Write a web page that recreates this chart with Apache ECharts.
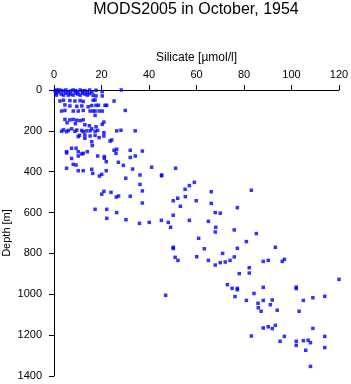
<!DOCTYPE html>
<html lang="en">
<head>
    <meta charset="UTF-8">
    <title>MODS2005 in October, 1954</title>
    <script src="https://cdn.jsdelivr.net/npm/echarts@6/dist/echarts.min.js"></script>
    <style>
        html, body { margin: 0; padding: 0; background: #fff; }
    </style>
</head>
<body>
<div id="main" style="width: 351px;height: 384px"></div>
<script>
    // silicate [umol/l] and depth [m], band by band
    var silicate = [
        1, 2, 3, 4, 5, 6, 7, 8, 9, 10, 11, 12, 13, 14, 15, 2, 3, 5, 7, 8, 10, 12, 4, 6, 1, 1, 11, 14, 0.5, 9, 13, 16, 16.5, 17.7, 20.3, 28.3, 17.7, 20.3, 15,
        4, 6.7, 8.8, 11, 12.3, 16.5, 17.3, 25.3, 2.5,
        6.7, 9.6, 11.7, 14.4, 15.9, 17.7, 18.7, 21.5, 22.2, 4.6,
        3.2, 4.6, 8.1, 10.2, 12.3, 15.2, 16.5, 17.3, 19, 20.3, 30, 17.3,
        4.6, 6.7, 8.1, 9.6, 11, 12.3, 5.5, 9, 13, 21, 20.3, 14.9, 17.7,
        4, 6, 7.4, 9.6, 11.7, 13.7, 15.9, 18.4, 3.2, 5.3, 8.8, 12.3, 15.2, 17.3, 26.4, 28.2, 34.2,
        10.7, 13, 15.2, 17.3, 21, 21, 19, 13, 10.2, 15.9, 23.6, 24.3, 16.1,
        7.4, 9.3, 26.4, 25.3, 26.1, 32.1, 37.2, 5.3, 5.3, 10.2, 12.3, 11.7, 14,
        7.4, 10.2, 18.4, 21.2, 21.2, 32.1, 34.2, 22, 27.1, 29.2, 8.1, 9.3,
        5.3, 10.2, 12.3, 15.9, 16.3, 33.1, 41.1, 22, 19.1, 20.1, 36.2, 45.3, 45.3, 51.2,
        30.2, 36.2, 59.1, 57,
        37.2, 21, 20.1, 24, 27.2, 26.2, 32.1, 55.2, 66.2, 83.1, 55.3, 52.1,
        37.2, 50.2, 59.9, 66.2, 53.2, 77.2, 17.3, 22.2, 26.4, 67.9, 70, 50.2,
        22.2, 30.3, 36, 40.1, 45.2, 48.1, 49.1, 57, 65, 68.1, 67.9, 75.9, 85.2,
        60.9, 81, 50.2, 50.2, 63.3, 77.2, 93.2, 71, 51, 52.2, 60.1, 75.9, 74.1, 65, 70, 72.1, 67.9, 82.2, 88.1, 90.2, 97, 96.1,
        82.2, 78, 120, 73, 75, 77.2, 77.2, 88.1, 102, 102, 47, 76.2, 84.2,
        81, 88.1, 91.9, 85.9, 86, 91.1, 87.2, 94, 105, 109, 114, 103.2,
        88.1, 90.2, 91.9, 93.2, 109, 97, 83.1, 95.2, 102, 102, 105, 107, 108, 114, 114, 106, 108
    ];
    var depth = [
        0, 0, 2, 5, 0, 10, 5, 0, 15, 10, 0, 5, 20, 10, 0, 10, 20, 15, 20, 25, 20, 15, 25, 25, 15, 25, 25, 25, 5, 3, 3, 10, 26, 1, 8, 0, 29, 29, 18,
        50, 52, 54, 52, 56, 50, 49, 54, 54,
        78, 80, 78, 82, 76, 75, 75, 75, 75, 73,
        103, 100, 103, 103, 100, 103, 103, 103, 103, 103, 100, 124,
        144, 146, 144, 148, 150, 146, 160, 165, 170, 157, 168, 175, 180,
        195, 198, 190, 196, 198, 200, 190, 198, 202, 204, 202, 204, 200, 202, 200, 197, 200,
        222, 220, 225, 222, 209, 225, 233, 236, 228, 253, 250, 245, 272,
        285, 285, 290, 295, 310, 295, 299, 302, 308, 302, 310, 313, 302,
        335, 323, 323, 326, 334, 330, 323, 351, 354, 369, 364, 367,
        383, 395, 395, 388, 408, 387, 378, 395, 421, 413, 416, 416, 420, 383,
        432, 462, 452, 468,
        494, 496, 510, 501, 519, 524, 520, 486, 498, 491, 522, 530,
        553, 542, 542, 555, 569, 576, 584, 584, 600, 600, 603, 613,
        628, 635, 653, 648, 638, 648, 672, 638, 643, 672, 695, 685, 703,
        726, 742, 770, 776, 777, 775, 770, 800, 819, 834, 816, 817, 834, 834, 845, 842, 857, 870, 839, 834, 829, 839,
        896, 899, 927, 953, 971, 971, 978, 966, 965, 972, 1005, 1011, 996,
        1030, 1030, 1028, 1044, 1066, 1051, 1083, 1078, 1030, 1017, 1010, 1083,
        1165, 1159, 1168, 1152, 1167, 1206, 1204, 1230, 1230, 1250, 1227, 1225, 1237, 1206, 1261, 1274, 1353
    ];

    var points = silicate.map(function (s, i) { return [s, depth[i]]; });

    var font = 'Liberation Sans, Arial, sans-serif';
    var myChart = echarts.init(document.getElementById('main'));
    var option = {
        animation: false,
        backgroundColor: '#fff',
        title: {
            text: 'MODS2005 in October, 1954',
            left: 196,
            top: 2,
            padding: 0,
            textAlign: 'center',
            textStyle: { color: '#000', fontSize: 16, fontWeight: 'normal', fontFamily: font }
        },
        grid: { left: 54, right: 12, top: 90, bottom: 8, containLabel: false, outerBoundsMode: 'none' },
        xAxis: {
            type: 'value',
            position: 'top',
            min: 0, max: 120, interval: 20,
            name: 'Silicate [\u00b5mol/l]',
            nameLocation: 'middle',
            nameGap: 26,
            nameMoveOverlap: false,
            nameTextStyle: { color: '#000', fontSize: 12, fontFamily: font },
            axisLine: { show: true, lineStyle: { color: '#000', width: 1 } },
            axisTick: { show: true, length: 5, lineStyle: { color: '#000' } },
            axisLabel: { color: '#000', fontSize: 11, fontFamily: font, margin: 10 },
            splitLine: { show: false }
        },
        yAxis: {
            type: 'value',
            inverse: true,
            min: 0, max: 1400, interval: 200,
            name: 'Depth [m]',
            nameLocation: 'middle',
            nameGap: 42,
            nameMoveOverlap: false,
            nameTextStyle: { color: '#000', fontSize: 11, fontFamily: font },
            axisLine: { show: true, lineStyle: { color: '#000', width: 1 } },
            axisTick: { show: true, length: 5, lineStyle: { color: '#000' } },
            axisLabel: {
                color: '#000', fontSize: 11, fontFamily: font, margin: 12,
                formatter: function (v) { return String(v); }
            },
            splitLine: { show: false }
        },
        series: [{
            type: 'scatter',
            symbol: 'rect',
            symbolSize: 3.5,
            itemStyle: { color: '#0000ff' },
            data: points
        }]
    };
    myChart.setOption(option);
</script>
</body>
</html>
